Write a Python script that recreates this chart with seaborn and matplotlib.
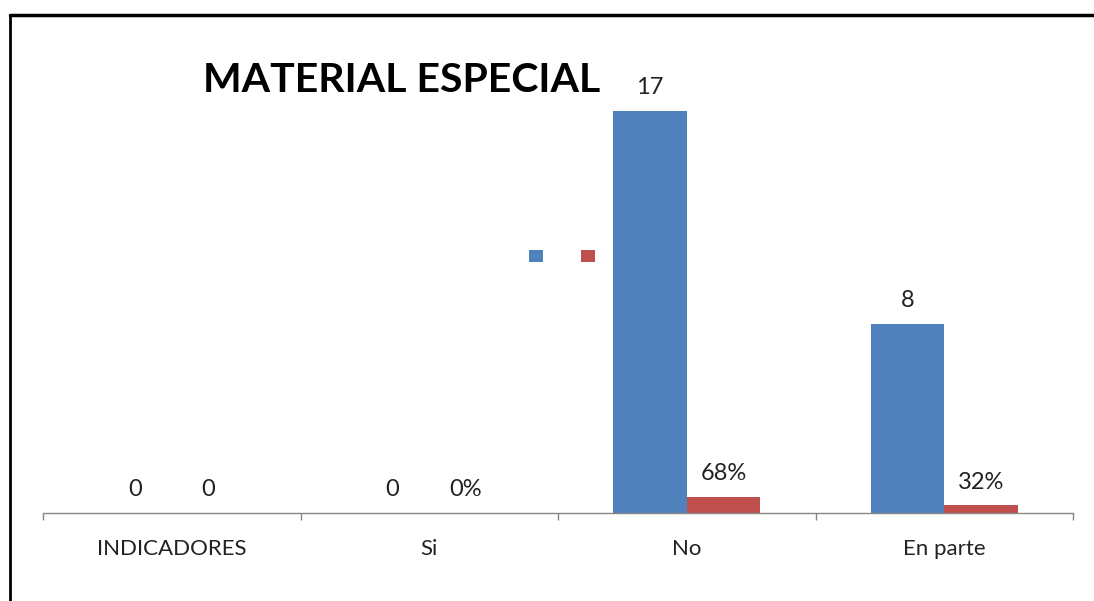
import pandas as pd
import matplotlib.pyplot as plt
import seaborn as sns
from matplotlib.lines import Line2D
from matplotlib.patches import Patch

categorias = ['INDICADORES', 'Si', 'No', 'En parte']
frecuencia = [0, 0, 17, 8]
porcentaje = [0, 0, 0.68, 0.32]
etiquetas_frec = ['0', '0', '17', '8']
etiquetas_porc = ['0', '0%', '68%', '32%']
titulo = 'MATERIAL ESPECIAL'

azul = '#4F81BD'
rojo = '#C0504D'
gris = '#868686'

df = pd.DataFrame({
    'categoria': categorias * 2,
    'valor': frecuencia + porcentaje,
    'serie': ['Frecuencia'] * 4 + ['Porcentaje'] * 4,
})

sns.set_style('white')
plt.rcParams['font.family'] = ['Lato', 'DejaVu Sans']

fig = plt.figure(figsize=(10.94, 6.01), dpi=100)
ax = fig.add_axes([43 / 1094, 1 - 513 / 601, (1073 - 43) / 1094, (513 - 40) / 601])

sns.barplot(data=df, x='categoria', y='valor', hue='serie',
            palette=[azul, rojo], width=0.571, saturation=1,
            linewidth=0, legend=False, ax=ax)

for cont, labs in zip(ax.containers, [etiquetas_frec, etiquetas_porc]):
    ax.bar_label(cont, labels=labs, padding=9, fontsize=17, color='#222222')

ax.set_xlim(-0.5, 3.5)
ax.set_ylim(0, 20)
ax.set_xlabel('')
ax.set_ylabel('')
ax.set_yticks([])
for s in ['top', 'right', 'left']:
    ax.spines[s].set_visible(False)
ax.spines['bottom'].set_color(gris)
ax.spines['bottom'].set_linewidth(1)

ax.set_xticks([-0.5, 0.5, 1.5, 2.5, 3.5], minor=True)
ax.tick_params(axis='x', which='major', length=0, pad=19, labelsize=16, labelcolor='#222222')
ax.tick_params(axis='x', which='minor', length=5, width=1, color=gris, direction='out', bottom=True)

handles = [Patch(facecolor=azul, edgecolor='none'), Patch(facecolor=rojo, edgecolor='none')]
fig.legend(handles, ['', ''], loc='center', bbox_to_anchor=(562 / 1094, 1 - 256 / 601),
           ncol=2, frameon=False, fontsize=10, handlelength=1.0, handleheight=1.0,
           handletextpad=0, columnspacing=2.7, borderpad=0)

fig.text(203 / 1094, 1 - 92 / 601, titulo, fontsize=29.5, fontweight='bold',
         va='baseline', ha='left', color='black')

# marco del grafico
fig.add_artist(Line2D([9.5 / 1094, 9.5 / 1094], [0, 1 - 15 / 601], color='black', lw=2,
                      transform=fig.transFigure))
fig.add_artist(Line2D([9.5 / 1094, 1], [1 - 15 / 601, 1 - 15 / 601], color='black', lw=2.5,
                      transform=fig.transFigure))

fig.savefig('out.png', dpi=100)
